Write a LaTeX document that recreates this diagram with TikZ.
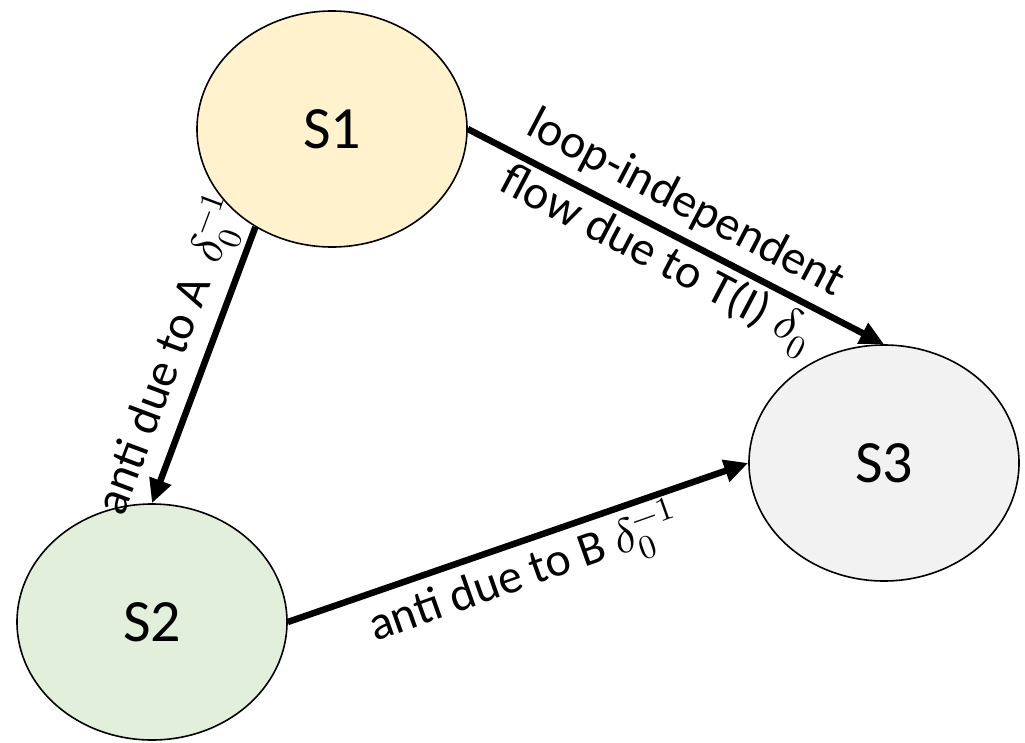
\documentclass[tikz,border=0pt]{standalone}
\usepackage{fontspec}
\usepackage{unicode-math}
\setmainfont{Carlito}
\setmathfont{Latin Modern Math}
\usetikzlibrary{shapes.geometric,arrows.meta}
\tikzset{
  state/.style={ellipse, draw=black, line width=1.6pt, minimum width=270pt,
    minimum height=236pt, inner sep=0pt, font=\fontsize{60}{64}\selectfont},
  flow/.style={line width=6.5pt, -{Triangle[length=24pt,width=22pt]}},
  lbl/.style={font=\fontsize{48}{62}\selectfont, inner sep=4pt}
}
\begin{document}
\begin{tikzpicture}[x=1pt,y=-1pt]
\useasboundingbox (0,0) rectangle (1025,742);
% statements
\node[state, fill={rgb,255:red,255;green,242;blue,204}] (S1) at (332,129) {S1};
\node[state, fill={rgb,255:red,226;green,239;blue,218}] (S2) at (152,622) {S2};
\node[state, fill={rgb,255:red,242;green,242;blue,242}] (S3) at (884,463) {S3};
% dependences
\draw[flow] (S1.232.6) -- (S2.north) coordinate[pos=0.51] (m1);
\draw[flow] (S1.east) -- (S3.north) coordinate[pos=0.486] (m2);
\draw[flow] (S2.east) -- (S3.west) coordinate[pos=0.49] (m3);
% edge labels
\node[lbl, rotate=69.4, anchor=south, inner sep=8pt] (L1) at (m1) {anti due to A\, $\delta_0^{-1}$};
\node[lbl, rotate=-27.7, align=center] (L2) at (m2) {loop-independent\\flow due to T(I) $\delta_0$};
\node[lbl, rotate=19.5, anchor=north, inner sep=6pt] (L3) at (m3) {anti due to B $\delta_0^{-1}$};
\end{tikzpicture}
\end{document}
